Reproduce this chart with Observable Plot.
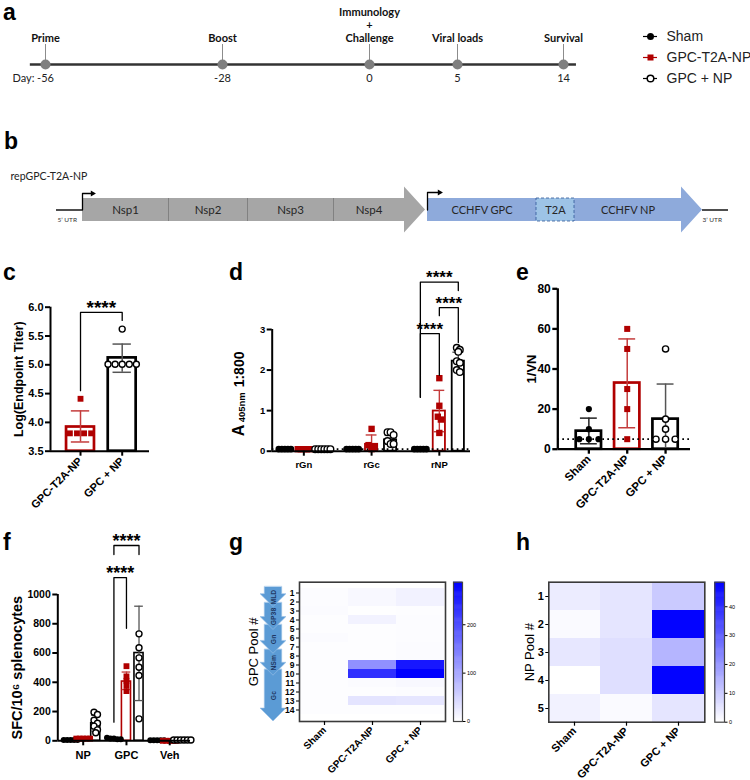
<!DOCTYPE html>
<html>
<head>
<meta charset="utf-8">
<script src="https://cdn.jsdelivr.net/npm/d3@7"></script>
<script src="https://cdn.jsdelivr.net/npm/@observablehq/plot@0.6"></script>
<style>
  html, body { margin: 0; padding: 0; background: #fff; }
  #fig { position: relative; width: 750px; height: 780px; overflow: hidden; background: #fff; }
  .plab { position: absolute; font: bold 23px "Liberation Sans", Arial, sans-serif; line-height: 1; color: #000; }
</style>
</head>
<body>
<div id="fig"></div>
<script>
// ================= DATA =================
const seriesNames = ["Sham", "GPC-T2A-NP", "GPC + NP"];

// (a) timeline
const tlDays = [-56, -28, 0, 5, 14];
const tlEvents = ["Prime", "Boost", "Immunology\n+\nChallenge", "Viral loads", "Survival"];

// (b) construct schematic
const constructName = "repGPC-T2A-NP";
const replicaseNames = ["Nsp1", "Nsp2", "Nsp3", "Nsp4"];
const replicaseEdges = [82, 168, 247, 333, 404];
const cassetteNames = ["CCHFV GPC", "T2A", "CCHFV NP"];
const cassetteEdges = [427, 536, 574, 681];
const utrNames = ["5\u2019 UTR", "3\u2019 UTR"];

// (c) endpoint titer
const cGroups = ["GPC-T2A-NP", "GPC + NP"];
const cMean = [3.92, 5.12];
const cLow = [3.66, 4.87];
const cHigh = [4.20, 5.36];
const cPtsT2A = [4.41, 3.81, 3.81, 3.81, 3.81];
const cPtsNP = [5.62, 5.01, 5.01, 5.01, 5.01, 5.01];
const cTicks = [3.5, 4.0, 4.5, 5.0, 5.5, 6.0];

// (d) ELISA A405
const dAntigens = ["rGn", "rGc", "rNP"];
const dMean = [[0.05, 0.05, 0.05], [0.05, 0.17, 0.99], [0.05, 0.28, 2.22]];
const dLow  = [[0.05, 0.05, 0.05], [0.05, 0.00, 0.48], [0.05, 0.17, 1.98]];
const dHigh = [[0.05, 0.05, 0.05], [0.05, 0.40, 1.50], [0.05, 0.39, 2.44]];
const dPtsSham = [[0.05, 0.05, 0.05, 0.05, 0.05], [0.05, 0.05, 0.05, 0.05, 0.05], [0.05, 0.05, 0.05, 0.05, 0.05]];
const dPtsT2A = [[0.05, 0.05, 0.05, 0.05, 0.05], [0.55, 0.15, 0.12, 0.10, 0.05], [1.80, 1.12, 0.85, 0.78, 0.45]];
const dPtsNP = [[0.05, 0.05, 0.05, 0.05, 0.05, 0.05], [0.47, 0.47, 0.40, 0.25, 0.18, 0.18], [2.55, 2.50, 2.45, 2.22, 2.18, 2.00, 1.95]];
const dTicks = [0, 1, 2, 3];
const dCutoff = 0.05;

// (e) neutralisation 1/VN
const eGroups = ["Sham", "GPC-T2A-NP", "GPC + NP"];
const eMean = [9, 33, 15];
const eLow = [2.7, 10.7, 0];
const eHigh = [15.5, 55, 32.5];
const ePts = [[20, 10, 5, 5, 5], [60, 50, 30, 20, 5], [50, 15, 10, 5, 5, 5]];
const eTicks = [0, 20, 40, 60, 80];
const eCutoff = 5;

// (f) ELISpot SFC/10^6
const fPools = ["NP", "GPC", "Veh"];
const fMean = [[5, 15, 3], [15, 405, 0], [120, 600, 5]];
const fLow  = [[5, 12, 3], [15, 350, 0], [65, 275, 5]];
const fHigh = [[5, 18, 3], [15, 470, 0], [175, 920, 5]];
const fPtsSham = [[5, 5, 5, 5, 5], [20, 15, 15, 10, 10], [3, 3, 3, 3, 3]];
const fPtsT2A = [[15, 15, 15, 15, 15], [510, 440, 410, 380, 340], [0, 0, 0, 0, 0]];
const fPtsNP = [[195, 180, 140, 120, 100, 75, 55], [731, 636, 567, 503, 446, 150], [5, 5, 5, 5, 5, 5]];
const fTicks = [0, 200, 400, 600, 800, 1000];

// (g) GPC peptide pool heatmap
const gPools = [1, 2, 3, 4, 5, 6, 7, 8, 9, 10, 11, 12, 13, 14];
const gSham = [3, 3, 4, 2, 2, 4, 2, 2, 2, 2, 2, 2, 2, 2];
const gT2A = [8, 8, 1, 15, 2, 2, 2, 2, 125, 235, 5, 2, 30, 2];
const gNP = [15, 15, 2, 3, 3, 3, 5, 5, 262, 288, 8, 3, 28, 2];
const gMax = 288;
const gBarTicks = [0, 100, 200];
const gDomains = [
  {name: "MLD", start: 1.0, end: 3.0},
  {name: "GP38", start: 2.6, end: 5.3},
  {name: "Gn", start: 4.8, end: 7.7},
  {name: "NSm", start: 7.3, end: 9.9},
  {name: "Gc", start: 9.3, end: 14.5}
];

// (h) NP peptide pool heatmap
const hPools = [1, 2, 3, 4, 5];
const hSham = [3.6, 1, 4.5, 0, 2.5];
const hT2A = [5, 5, 6, 6, 1];
const hNP = [10, 48, 14, 48, 5];
const hMax = 48.5;
const hBarTicks = [0, 10, 20, 30, 40];

// ================= STYLE / HELPERS =================
const RED = "#b00000";
const seriesStroke = ["#000", RED, "#000"];
const errStroke = ["#222", "#c43c3c", "#555"];
const FONT = '"Liberation Sans", Arial, Helvetica, sans-serif';
const CAL = 'Lato, "Open Sans", "Liberation Sans", sans-serif';
const fig = document.getElementById("fig");
const baseStyle = {background: "transparent", overflow: "visible", fontFamily: FONT, color: "#000", fontWeight: "bold"};
function place(node, left, top) {
  node.style.position = "absolute";
  node.style.left = left + "px";
  node.style.top = top + "px";
  node.style.maxWidth = "none";
  fig.appendChild(node);
}
function panelLabel(t, left, baseline) {
  const d = document.createElement("div");
  d.className = "plab";
  d.textContent = t;
  d.style.left = left + "px";
  d.style.top = (baseline - 0.85 * 23) + "px";
  fig.appendChild(d);
}
function yLabel(text, dx, fontSize, extra = {}) {
  return Plot.text([text], {frameAnchor: "left", text: d => d, rotate: -90, textAnchor: "middle", dx, fontSize, ...extra});
}

// ================= (a) timeline =================
place(Plot.plot({
  width: 620, height: 100, margin: 0,
  x: {type: "linear", domain: tlDays, range: [45, 222, 369, 457, 563], axis: null},
  y: {domain: [0, 1], range: [64, 44], axis: null},
  color: {type: "identity"},
  style: {...baseStyle, fontFamily: CAL, fontWeight: "normal"},
  marks: [
    Plot.ruleY([0], {x1: -58.4, x2: 15.1, stroke: "#333", strokeWidth: 2.4}),
    Plot.ruleX(tlDays, {x: d => d, y1: 0, y2: 1, stroke: "#8c8c8c", strokeWidth: 1}),
    Plot.dot(tlDays, {x: d => d, y: 0, r: 5, fill: "#7f7f7f"}),
    Plot.text(tlDays, {x: d => d, y: 1, text: (d, i) => tlEvents[i], lineAnchor: "bottom", dy: -3, fontSize: 11, fontWeight: "bold", lineHeight: 1.18, fill: "#111"}),
    Plot.text(tlDays, {x: d => d, y: 0, text: d => String(d), dy: 14, fontSize: 11, fill: "#222"}),
    Plot.text(["Day:"], {x: -56, y: 0, text: d => d, textAnchor: "end", dx: -11, dy: 14, fontSize: 11, fill: "#222"})
  ]
}), 0, 0);

// legend
place(Plot.plot({
  width: 110, height: 100, margin: 0,
  x: {domain: [0, 1], range: [3, 17], axis: null},
  y: {type: "point", domain: seriesNames, range: [35, 78], padding: 0, axis: null},
  color: {type: "identity"},
  style: {...baseStyle, fontWeight: "normal"},
  marks: [
    Plot.ruleY(seriesNames, {y: d => d, x1: 0, x2: 1, stroke: (d, i) => seriesStroke[i], strokeWidth: 1.2}),
    Plot.dot([seriesNames[0]], {x: 0.5, y: d => d, r: 3.5, fill: "#000"}),
    Plot.dot([seriesNames[1]], {x: 0.5, y: d => d, r: 3.4, symbol: "square", fill: RED}),
    Plot.dot([seriesNames[2]], {x: 0.5, y: d => d, r: 3.3, fill: "#fff", stroke: "#000", strokeWidth: 1.5}),
    Plot.text(seriesNames, {x: 1, y: d => d, text: d => d, textAnchor: "start", dx: 9, fontSize: 14, fill: "#222"})
  ]
}), 640, 0);

// ================= (b) construct =================
const geo = {bodyTop: 198, bodyBottom: 221, headTop: 186.5, headBottom: 232.5, mid: 209.5, repTip: 425, casTip: 702};
function arrowPoints(x0, xHead, xTip) {
  return [
    {x: x0, y1: geo.bodyTop, y2: geo.bodyBottom},
    {x: xHead, y1: geo.bodyTop, y2: geo.bodyBottom},
    {x: xHead, y1: geo.headTop, y2: geo.headBottom},
    {x: xTip, y1: geo.mid, y2: geo.mid}
  ];
}
const repStart = replicaseEdges[0], repHead = replicaseEdges[replicaseEdges.length - 1];
const casStart = cassetteEdges[0], casHead = cassetteEdges[cassetteEdges.length - 1];
const promoters = [
  {id: 0, x: repStart, y: geo.mid}, {id: 0, x: repStart, y: 193}, {id: 0, x: repStart + 9, y: 193},
  {id: 1, x: casStart, y: geo.mid}, {id: 1, x: casStart, y: 192}, {id: 1, x: casStart + 11, y: 192}
];
place(Plot.plot({
  width: 750, height: 80, margin: 0,
  x: {domain: [0, 750], range: [0, 750], axis: null},
  y: {domain: [160, 240], range: [0, 80], axis: null},
  color: {type: "identity"},
  style: {...baseStyle, fontFamily: CAL, fontWeight: "normal"},
  marks: [
    Plot.text([constructName], {x: 10, y: 176, text: d => d, textAnchor: "start", fontSize: 10.5, fill: "#222"}),
    Plot.ruleY([0, 1], {y: geo.mid, x1: i => [56, geo.casTip][i], x2: i => [repStart, 728][i], stroke: "#222", strokeWidth: 1.6}),
    Plot.text([0, 1], {x: i => [57, geo.casTip][i], y: 219, text: i => utrNames[i], textAnchor: "start", fontSize: 6.5, fill: "#333"}),
    Plot.areaY(arrowPoints(repStart, repHead, geo.repTip), {x: "x", y1: "y1", y2: "y2", fill: "#a6a6a6"}),
    Plot.ruleX(replicaseEdges.slice(1, -1), {x: d => d, y1: geo.bodyTop, y2: geo.bodyBottom, stroke: "#777", strokeWidth: 0.8}),
    Plot.text(replicaseNames, {x: (d, i) => (replicaseEdges[i] + replicaseEdges[i + 1]) / 2, y: geo.mid, text: d => d, fontSize: 11.5, fill: "#262626"}),
    Plot.areaY(arrowPoints(casStart, casHead, geo.casTip), {x: "x", y1: "y1", y2: "y2", fill: "#8eaadb"}),
    Plot.rect([1], {x1: cassetteEdges[1], x2: cassetteEdges[2], y1: geo.bodyTop, y2: geo.bodyBottom, fill: "#9dc3e6", stroke: "#2f5597", strokeWidth: 0.8, strokeDasharray: "3,2"}),
    Plot.text(cassetteNames, {x: (d, i) => (cassetteEdges[i] + cassetteEdges[i + 1]) / 2, y: geo.mid, text: d => d, fontSize: 11, fill: "#262626"}),
    Plot.line(promoters, {x: "x", y: "y", z: "id", stroke: "#000", strokeWidth: 1.3}),
    Plot.dot([0, 1], {x: i => [repStart + 10, casStart + 12][i], y: i => [193, 192][i], symbol: "triangle", r: 2.2, rotate: 90, fill: "#000"})
  ]
}), 0, 160);

// ================= bar panels =================
function makeBars(groupsN, seriesIdx, mean, low, high, pts) {
  const out = [];
  for (let g = 0; g < groupsN; g++) out.push({g, s: seriesIdx(g), mean: mean[g], lo: low[g], hi: high[g], pts: pts[g]});
  return out;
}
function makeGroupedBars(mean, low, high, ptsBySeries) {
  const out = [];
  for (let s = 0; s < 3; s++) for (let g = 0; g < mean[s].length; g++)
    out.push({g, s, mean: mean[s][g], lo: low[s][g], hi: high[s][g], pts: ptsBySeries[s][g]});
  return out;
}
function barPanel(o) {
  const pos = (g, s) => g + (o.grouped ? (s - 1) * o.offset : 0);
  const bars = o.bars.map(b => ({...b, x: pos(b.g, b.s)}));
  const pts = [];
  for (const b of bars) {
    const vals = [...b.pts].sort((a, c) => c - a);
    const clusters = [];
    for (const v of vals) {
      const last = clusters[clusters.length - 1];
      if (last && last[0] - v <= o.tol) last.push(v); else clusters.push([v]);
    }
    for (const cl of clusters) cl.forEach((v, j) => pts.push({s: b.s, v, x: b.x + (j - (cl.length - 1) / 2) * o.jitter}));
  }
  const y0 = o.yDomain[0];
  const marks = [];
  for (let s = 0; s < 3; s++) {
    const bs = bars.filter(b => b.s === s);
    if (!bs.length) continue;
    marks.push(Plot.rect(bs, {x1: d => d.x - o.barW / 2, x2: d => d.x + o.barW / 2, y1: y0, y2: "mean", fill: "#fff", stroke: seriesStroke[s], strokeWidth: o.barSW}));
    const eb = bs.filter(b => b.hi > b.lo);
    marks.push(Plot.ruleX(eb, {x: "x", y1: "lo", y2: "hi", stroke: errStroke[s], strokeWidth: o.errSW}));
    marks.push(Plot.ruleY(eb, {y: "hi", x1: d => d.x - o.capW, x2: d => d.x + o.capW, stroke: errStroke[s], strokeWidth: o.errSW}));
    marks.push(Plot.ruleY(eb.filter(b => b.lo > y0), {y: "lo", x1: d => d.x - o.capW, x2: d => d.x + o.capW, stroke: errStroke[s], strokeWidth: o.errSW}));
  }
  if (o.cutoff != null) marks.push(Plot.ruleY([o.cutoff], {stroke: "#000", strokeWidth: 1.7, strokeDasharray: "1.7,3.3"}));
  marks.push(Plot.dot(pts.filter(p => p.s === 0), {x: "x", y: "v", r: o.r, fill: "#000"}));
  marks.push(Plot.dot(pts.filter(p => p.s === 1), {x: "x", y: "v", r: o.r + 0.3, symbol: "square", fill: RED}));
  marks.push(Plot.dot(pts.filter(p => p.s === 2), {x: "x", y: "v", r: o.r, fill: "#fff", stroke: "#000", strokeWidth: 1.4}));
  if (o.brackets) {
    const lp = [];
    o.brackets.forEach((b, k) => {
      const xa = pos(b.ga, b.sa), xb = pos(b.gb, b.sb);
      lp.push({k, x: xa, y: b.yL}, {k, x: xa, y: b.y}, {k, x: xb, y: b.y}, {k, x: xb, y: b.yR});
    });
    marks.push(Plot.line(lp, {x: "x", y: "y", z: "k", stroke: "#000", strokeWidth: 1.3}));
    marks.push(Plot.text(o.brackets, {x: b => (pos(b.ga, b.sa) + pos(b.gb, b.sb)) / 2, y: "y", text: () => "****", dy: o.starDy, fontSize: o.starFS}));
  }
  marks.push(
    Plot.ruleY([y0], {stroke: "#000", strokeWidth: o.axisSW}),
    Plot.ruleX([o.xDomain[0]], {stroke: "#000", strokeWidth: o.axisSW}),
    Plot.axisY({ticks: o.yTicks, tickFormat: o.yFormat, tickSize: 5, tickPadding: 2, strokeWidth: o.axisSW, fontSize: o.yFS, label: null}),
    Plot.axisX({ticks: o.groups.map((_, i) => i), tickFormat: i => o.groups[i], tickSize: 5, tickPadding: o.xPad || 3, tickRotate: o.xRot || 0, strokeWidth: o.axisSW, fontSize: o.xFS, label: null})
  );
  if (o.ylabel) marks.push(yLabel(o.ylabel, o.ylabelDx, o.ylabelFS));
  if (o.extra) marks.push(...o.extra);
  return Plot.plot({
    width: o.width, height: o.height,
    marginLeft: o.ml, marginRight: o.mr, marginTop: o.mt, marginBottom: o.mb,
    x: {domain: o.xDomain},
    y: {domain: o.yDomain},
    color: {type: "identity"},
    style: {...baseStyle},
    marks
  });
}

// (c)
place(barPanel({
  width: 160, height: 285, ml: 50, mr: 11, mt: 41.7, mb: 99.3,
  groups: cGroups, grouped: false,
  bars: makeBars(2, g => g + 1, cMean, cLow, cHigh, [cPtsT2A, cPtsNP]),
  xDomain: [-0.72, 1.655], barW: 0.67, capW: 0.22, jitter: 0.17, tol: 0.05, r: 3,
  yDomain: [3.5, 6.0], yTicks: cTicks, yFormat: d => d.toFixed(1),
  barSW: 2.7, errSW: 1.5, axisSW: 2, yFS: 11, xFS: 11, xRot: -45,
  ylabel: "Log(Endpoint Titer)", ylabelDx: -32, ylabelFS: 12.5,
  brackets: [{ga: 0, sa: 1, gb: 1, sb: 2, y: 5.91, yL: 4.55, yR: 5.77}],
  starDy: -4, starFS: 19
}), 0, 265);

// (d)
place(barPanel({
  width: 290, height: 230, ml: 81.7, mr: 10, mt: 64, mb: 44.3,
  groups: dAntigens, grouped: true, offset: 0.28,
  bars: makeGroupedBars(dMean, dLow, dHigh, [dPtsSham, dPtsT2A, dPtsNP]),
  xDomain: [-0.467, 2.46], barW: 0.18, capW: 0.08, jitter: 0.045, tol: 0.08, r: 3.3,
  yDomain: [0, 3], yTicks: dTicks, yFormat: d => String(d),
  barSW: 1.8, errSW: 1.4, axisSW: 2, yFS: 9.5, xFS: 9.5, xPad: 5,
  cutoff: dCutoff,
  brackets: [
    {ga: 2, sa: 0, gb: 2, sb: 2, y: 4.17, yL: 1.33, yR: 3.96},
    {ga: 2, sa: 1, gb: 2, sb: 2, y: 3.54, yL: 3.34, yR: 2.68},
    {ga: 2, sa: 0, gb: 2, sb: 1, y: 2.90, yL: 1.33, yR: 1.87}
  ],
  starDy: -4, starFS: 17,
  extra: [
    Plot.text(["A"], {frameAnchor: "left", text: d => d, rotate: -90, textAnchor: "start", dx: -33, dy: 46, fontSize: 16}),
    Plot.text(["405nm"], {frameAnchor: "left", text: d => d, rotate: -90, textAnchor: "start", dx: -30, dy: 32, fontSize: 9.5}),
    Plot.text(["1:800"], {frameAnchor: "left", text: d => d, rotate: -90, textAnchor: "start", dx: -33, dy: -3, fontSize: 14})
  ]
}), 190, 265);

// (e)
place(barPanel({
  width: 270, height: 275, ml: 77.3, mr: 60, mt: 23.3, mb: 91.3,
  groups: eGroups, grouped: false,
  bars: makeBars(3, g => g, eMean, eLow, eHigh, ePts),
  xDomain: [-0.81, 2.65], barW: 0.66, capW: 0.22, jitter: 0.25, tol: 2, r: 3.1,
  yDomain: [0, 80], yTicks: eTicks, yFormat: d => String(d),
  barSW: 2.7, errSW: 1.5, axisSW: 2.3, yFS: 12, xFS: 11.5, xRot: -45,
  cutoff: eCutoff,
  ylabel: "1/VN", ylabelDx: -26, ylabelFS: 13
}), 480, 265);

// (f)
place(barPanel({
  width: 200, height: 255, ml: 57.3, mr: 10, mt: 69, mb: 39.7,
  groups: fPools, grouped: true, offset: 0.29,
  bars: makeGroupedBars(fMean, fLow, fHigh, [fPtsSham, fPtsT2A, fPtsNP]),
  xDomain: [-0.587, 2.48], barW: 0.21, capW: 0.1, jitter: 0.08, tol: 25, r: 3,
  yDomain: [0, 1000], yTicks: fTicks, yFormat: d => String(d),
  barSW: 1.6, errSW: 1.3, axisSW: 2, yFS: 10.5, xFS: 11, xPad: 5,
  brackets: [
    {ga: 1, sa: 0, gb: 1, sb: 2, y: 1335, yL: 1273, yR: 1273},
    {ga: 1, sa: 0, gb: 1, sb: 1, y: 1116, yL: 127, yR: 769}
  ],
  starDy: -4, starFS: 18,
  ylabel: "SFC/10\u2076 splenocytes", ylabelDx: -40, ylabelFS: 14.5
}), 0, 525);

// ================= heatmaps =================
function heatColor(max) {
  return {type: "linear", domain: [0, max], range: ["#ffffff", "#0000ff"], interpolate: "rgb"};
}
function heatmap(o) {
  const cells = [];
  o.pools.forEach((p, i) => o.cols.forEach((col, j) => cells.push({pool: p, group: seriesNames[j], v: col[i]})));
  return Plot.plot({
    width: o.width, height: o.height,
    marginLeft: o.ml, marginRight: o.mr, marginTop: o.mt, marginBottom: o.mb,
    x: {type: "band", domain: seriesNames, padding: 0},
    y: {type: "band", domain: o.pools, padding: 0},
    color: heatColor(o.max),
    style: {...baseStyle},
    marks: [
      Plot.cell(cells, {x: "group", y: "pool", fill: "v", inset: 0}),
      Plot.frame({stroke: "#3a3a3a", strokeWidth: 1.6}),
      Plot.axisX({tickRotate: -45, tickSize: 4, tickPadding: 3, fontSize: o.xFS, label: null, strokeWidth: 1.2}),
      Plot.axisY({tickSize: 3, tickPadding: 2, fontSize: o.yFS, label: null, strokeWidth: 1}),
      ...(o.extra || [])
    ]
  });
}
function colorbar(o) {
  const step = o.max / 150;
  const ramp = d3.range(0, o.max, step);
  return Plot.plot({
    width: 45, height: o.height,
    marginLeft: o.ml, marginRight: o.mr, marginTop: o.mt, marginBottom: o.mb,
    x: {domain: [0, 1], axis: null},
    y: {domain: [0, o.max]},
    color: heatColor(o.max),
    style: {...baseStyle, fontWeight: "normal"},
    marks: [
      Plot.rect(ramp, {x1: 0, x2: 1, y1: d => d, y2: d => Math.min(o.max, d + step * 1.6), fill: d => d + step / 2}),
      Plot.frame({stroke: "#444", strokeWidth: 1.2}),
      Plot.axisY({anchor: "right", ticks: o.ticks, tickSize: 2.5, tickPadding: 2, fontSize: 5.5, label: null})
    ]
  });
}

// (g) arrow schematic of GPC domains
function chevron(d, head) {
  const bw = 0.67;
  return [
    {name: d.name, y: d.start, x1: -bw, x2: bw},
    {name: d.name, y: d.end - head, x1: -bw, x2: bw},
    {name: d.name, y: d.end - head, x1: -1, x2: 1},
    {name: d.name, y: d.end, x1: 0, x2: 0}
  ];
}
const chevPts = [...gDomains].reverse().flatMap(d => chevron(d, 1.3));
place(Plot.plot({
  width: 60, height: 220, marginLeft: 20, marginRight: 14, marginTop: 21.7, marginBottom: 59,
  x: {domain: [-1, 1], axis: null},
  y: {domain: [0.5, 14.5], reverse: true, axis: null},
  style: {...baseStyle, fontWeight: "normal"},
  marks: [
    Plot.areaX(chevPts, {y: "y", x1: "x1", x2: "x2", z: "name", fill: "#5b9bd5", stroke: "#9ec3e8", strokeWidth: 0.6}),
    Plot.text(gDomains, {x: 0, y: d => (d.start + d.end) / 2, text: "name", rotate: -90, fontSize: 6.8, fontWeight: "bold", fill: "#1f3864"}),
    yLabel("GPC Pool #", -7, 13)
  ]
}), 240, 560);

place(heatmap({
  width: 240, height: 220, ml: 69, mr: 25, mt: 21.7, mb: 59,
  pools: gPools, cols: [gSham, gT2A, gNP], max: gMax, xFS: 10, yFS: 8.5
}), 230, 560);
place(colorbar({height: 220, ml: 8, mr: 28, mt: 21.7, mb: 59, max: gMax, ticks: gBarTicks}), 445, 560);

// (h)
place(heatmap({
  width: 212, height: 220, ml: 48.3, mr: 7.7, mt: 21.7, mb: 58.3,
  pools: hPools, cols: [hSham, hT2A, hNP], max: hMax, xFS: 11, yFS: 11,
  extra: [yLabel("NP Pool #", -19, 13, {fontWeight: "normal"})]
}), 500, 560);
place(colorbar({height: 220, ml: 9.3, mr: 26, mt: 21.7, mb: 58.3, max: hMax, ticks: hBarTicks}), 705, 560);

// ================= panel letters =================
panelLabel("a", 3, 21);
panelLabel("b", 4, 150);
panelLabel("c", 3, 281);
panelLabel("d", 229, 281);
panelLabel("e", 516, 281);
panelLabel("f", 3, 551);
panelLabel("g", 229, 551);
panelLabel("h", 516, 551);
</script>
</body>
</html>
